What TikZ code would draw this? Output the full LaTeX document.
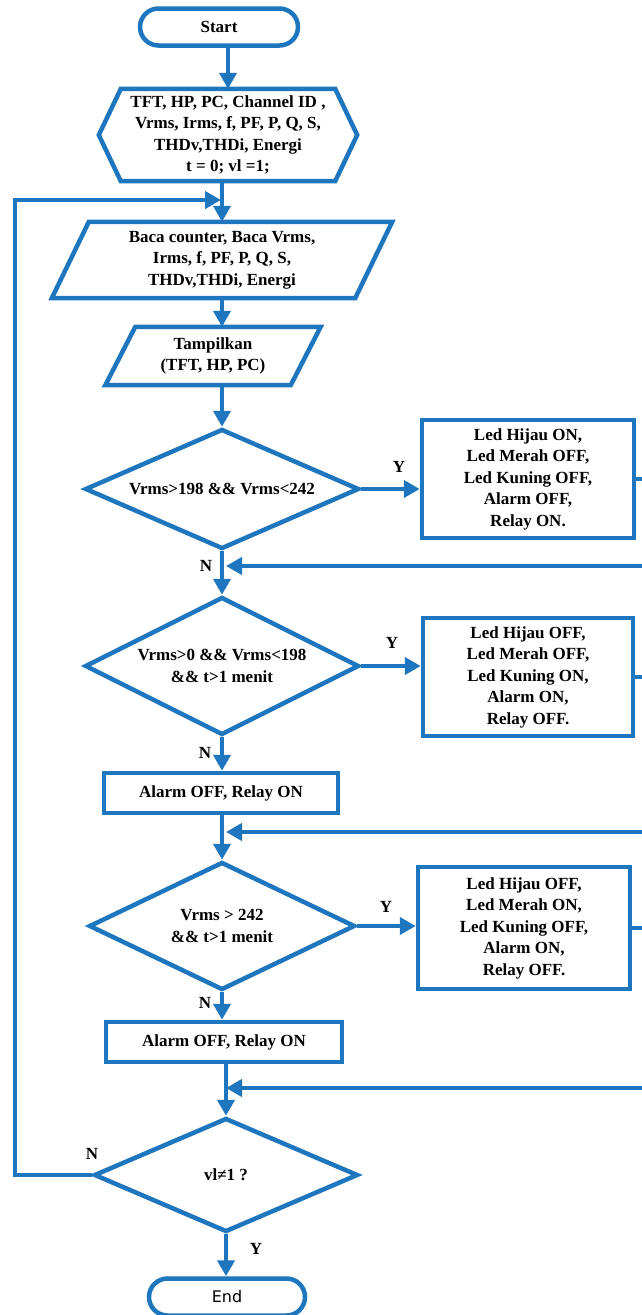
\documentclass[tikz,border=0pt]{standalone}
\usepackage{fontspec}
\setmainfont{Liberation Serif}
\newfontfamily\endfont{DejaVu Sans}
\usetikzlibrary{arrows.meta,shapes.geometric,shapes.misc,calc}
\definecolor{fcblue}{RGB}{30,118,190}
\begin{document}
\begin{tikzpicture}[x=1pt,y=-1pt,
  line/.style={draw=fcblue,line width=4.5pt,line join=miter},
  arr/.style={draw=fcblue,line width=4.5pt,-{Triangle[length=16pt,width=17pt]}},
  txt/.style={font=\bfseries\fontsize{17}{21.5}\selectfont,align=center,text=black},
  lbl/.style={font=\bfseries\fontsize{17}{20}\selectfont,text=black,inner sep=0pt},
  term/.style={rounded rectangle,line,txt,minimum width=158pt,minimum height=37pt,inner sep=0pt},
  boxshape/.style={rectangle,line,txt,inner sep=2pt},
  frame/.style={rectangle,txt,inner sep=0pt},
  dec/.style={diamond,line,txt,inner sep=0pt}
]
\useasboundingbox (0,0) rectangle (642,1315);
\clip (0,0) rectangle (642,1315);
\fill[white] (0,0) rectangle (642,1315);

% nodes
\node[term] (start) at (219,27) {Start};
\node[frame,minimum width=258pt,minimum height=92pt] (hx) at (228,135)
  {TFT, HP, PC, Channel ID ,\\Vrms, Irms, f, PF, P, Q, S,\\THDv,THDi, Energi\\t = 0; vl =1;};
\node[frame,minimum width=340pt,minimum height=76pt] (baca) at (222,260)
  {Baca counter, Baca Vrms,\\Irms, f, PF, P, Q, S,\\THDv,THDi, Energi};
\node[frame,minimum width=215pt,minimum height=58pt] (tamp) at (213,356)
  {Tampilkan\\(TFT, HP, PC)};
\node[dec,shape aspect=2.3,minimum width=274pt,minimum height=120pt] (d1) at (222,489)
  {Vrms>198 \&\& Vrms<242};
\node[boxshape,minimum width=212pt,minimum height=118pt] (b1) at (528,479)
  {Led Hijau ON,\\Led Merah OFF,\\Led Kuning OFF,\\Alarm OFF,\\Relay ON.};
\node[dec,shape aspect=2,minimum width=274pt,minimum height=138pt] (d2) at (222,666)
  {Vrms>0 \&\& Vrms<198\\\&\& t>1 menit};
\node[boxshape,minimum width=210pt,minimum height=118pt] (b2) at (528,677)
  {Led Hijau OFF,\\Led Merah OFF,\\Led Kuning ON,\\Alarm ON,\\Relay OFF.};
\node[boxshape,minimum width=234pt,minimum height=40pt] (a1) at (221,793)
  {Alarm OFF, Relay ON};
\node[dec,shape aspect=2,minimum width=266pt,minimum height=128pt] (d3) at (222,926)
  {Vrms > 242\\\&\& t>1 menit};
\node[boxshape,minimum width=212pt,minimum height=122pt] (b3) at (524,928)
  {Led Hijau OFF,\\Led Merah ON,\\Led Kuning OFF,\\Alarm ON,\\Relay OFF.};
\node[boxshape,minimum width=236pt,minimum height=40pt] (a2) at (224,1042)
  {Alarm OFF, Relay ON};
\node[dec,shape aspect=2.3,minimum width=264pt,minimum height=114pt] (d4) at (226,1175)
  {vl≠1 ?};
\node[term,minimum width=156pt,font=\endfont\fontsize{16}{18}\selectfont] (endn) at (227,1297) {End};

% custom outlines
\draw[line] (hx.west) -- ($(hx.north west)+(22,0)$) -- ($(hx.north east)+(-22,0)$)
  -- (hx.east) -- ($(hx.south east)+(-22,0)$) -- ($(hx.south west)+(22,0)$) -- cycle;
\draw[line] ($(baca.north west)+(37,0)$) -- (baca.north east) -- ($(baca.south east)+(-37,0)$)
  -- (baca.south west) -- cycle;
\draw[line] ($(tamp.north west)+(30,0)$) -- (tamp.north east) -- ($(tamp.south east)+(-30,0)$)
  -- (tamp.south west) -- cycle;

% coordinates
\coordinate (xl) at (15,200);
\coordinate (lj) at (221,200);
\coordinate (fb1) at (226,566);
\coordinate (fb2) at (226,832);
\coordinate (fb3) at (226,1088);
\coordinate (xr) at (660,0);

% main column
\draw[arr] (hx.north |- start.south) -- (hx.north);
\draw[arr] (hx.south -| baca.north) -- (baca.north);
\draw[arr] (baca.south) -- (tamp.north -| baca.south);
\draw[arr] (tamp.south -| d1.north) -- (d1.north);
\draw[arr] (d1.south) -- (d2.north);
\draw[arr] (d2.south) -- (a1.north -| d2.south);
\draw[arr] (a1.south -| d3.north) -- (d3.north);
\draw[arr] (d3.south) -- (a2.north -| d3.south);
\draw[arr] (a2.south -| d4.north) -- (d4.north);
\draw[arr] (d4.south) -- (endn.north -| d4.south);

% yes branches
\draw[arr] (d1.east) -- (d1.east -| b1.west);
\draw[arr] (d2.east) -- (d2.east -| b2.west);
\draw[arr] (d3.east) -- (d3.east -| b3.west);

% feedback from boxes
\draw[arr] (b1.east) -- (b1.east -| xr) |- (fb1);
\draw[arr] (b2.east) -- (b2.east -| xr) |- (fb2);
\draw[arr] (b3.east) -- (b3.east -| xr) |- (fb3);

% loop back
\draw[arr] (d4.west) -- (d4.west -| xl) -- (xl) -- (lj);

% labels
\node[lbl] (y1) at (399,467) {Y};
\node[lbl] (y2) at (392,643) {Y};
\node[lbl] (y3) at (386,907) {Y};
\node[lbl] (n1) at (206,566) {N};
\node[lbl] (n2) at (205,753) {N};
\node[lbl] (n3) at (205,1003) {N};
\node[lbl] (n4) at (92,1154) {N};
\node[lbl] (y4) at (256,1249) {Y};
\end{tikzpicture}
\end{document}
